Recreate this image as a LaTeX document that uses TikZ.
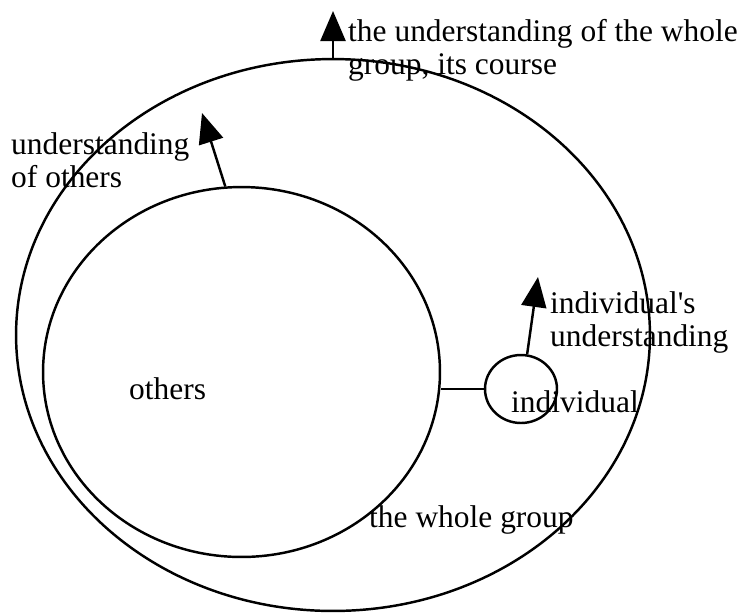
\documentclass[tikz,border=0pt]{standalone}
\usepackage{fontspec}
\setmainfont{Liberation Serif}
\usetikzlibrary{shapes.geometric,arrows.meta}

\begin{document}
\begin{tikzpicture}[x=0.02cm,y=-0.02cm,line width=1.4pt,
    grp/.style={draw,ellipse,inner sep=0},
    lbl/.style={inner sep=0,font=\fontsize{17.9}{18.8}\selectfont},
    grows/.style={-{Triangle[length=0.6cm,width=0.5cm]}}]
  \useasboundingbox (0,0) rectangle (746,613);
  \node[grp,minimum width=12.68cm,minimum height=11.04cm] (group) at (333,335) {};
  \node[grp,minimum width=7.94cm,minimum height=7.4cm] (others) at (241.5,372) {};
  \node[grp,minimum width=1.44cm,minimum height=1.36cm] (indiv) at (521,389) {};
  \draw (indiv.west) -- (others.east |- indiv.west);
  \coordinate (gtip) at (333,11);
  \coordinate (otip) at (202,113);
  \coordinate (itip) at (538,277);
  \draw[grows] (group.north) -- (gtip);
  \draw[grows] (others.95) -- (otip);
  \draw[grows] (indiv.80) -- (itip);
  \node[lbl,anchor=north west,align=left] (gtext) at (347,18.1)
    {the understanding of the whole\\group, its course};
  \node[lbl,anchor=north west,align=left] (otext) at (10,131.9)
    {understanding\\of others};
  \node[lbl,anchor=north west,align=left] (itext) at (549,290.3)
    {individual\textquotesingle s\\understanding};
  \node[lbl,anchor=base west] (olabel) at (128,399) {others};
  \node[lbl,anchor=base west] (ilabel) at (510,412) {individual};
  \node[lbl,anchor=base west] (glabel) at (368,527) {the whole group};
\end{tikzpicture}
\end{document}
